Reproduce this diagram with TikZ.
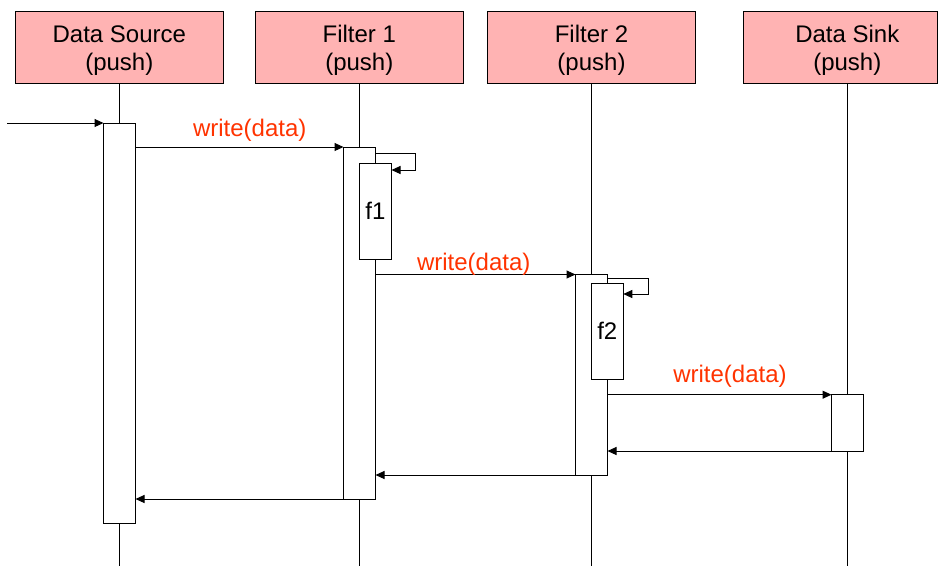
\documentclass[tikz,border=0pt]{standalone}
\usepackage{fontspec}
\setmainfont{Liberation Sans}
\usetikzlibrary{arrows.meta,calc}
\definecolor{hdr}{RGB}{255,179,179}
\definecolor{lblred}{RGB}{255,51,0}
\begin{document}
\begin{tikzpicture}[x=1pt,y=-1pt,line width=1pt,
  header/.style={draw, fill=hdr, minimum width=208pt, minimum height=72pt,
                 inner sep=0pt, outer sep=0pt},
  hdrtext/.style={align=center, inner sep=0pt, yshift=-3.5pt, font=\fontsize{24}{28}\selectfont},
  act/.style={draw, fill=white, minimum width=32pt, inner sep=0pt, outer sep=0pt, anchor=north,
              font=\fontsize{24}{28}\selectfont},
  msg/.style={-{Triangle[length=9pt,width=8pt]}},
  lbltext/.style={text=lblred, inner sep=0pt, font=\fontsize{24}{28}\selectfont}]
\useasboundingbox (0,0) rectangle (938,566);

% headers
\node[header, label={[hdrtext]center:Data Source\\(push)}] (ds) at (119.3,47) {};
\node[header, label={[hdrtext]center:Filter 1\\(push)}] (fa) at (359.3,47) {};
\node[header, label={[hdrtext]center:Filter 2\\(push)}] (fb) at (591.5,47) {};
\node[header, minimum width=194.5pt, label={[hdrtext, xshift=6.8pt]center:Data Sink\\(push)}] (sk) at (840.5,47) {};

% lifelines
\draw (ds.south) -- (ds.south |- 0,566);
\draw (fa.south) -- (fa.south |- 0,566);
\draw (fb.south) -- (fb.south |- 0,566);
\draw ([xshift=6.8pt]sk.south) -- ([xshift=6.8pt]sk.south |- 0,566);

% activations
\node[act, minimum height=400pt] (dsA) at (119.5,123) {};
\node[act, minimum height=352pt] (faA) at (359.5,147) {};
\node[act, minimum height=96pt]  (faN) at (375.5,163) {f1};
\node[act, minimum height=200.5pt] (fbA) at (591.5,274.5) {};
\node[act, minimum height=95.7pt] (fbN) at (607.3,283.3) {f2};
\node[act, minimum height=56.3pt] (skA) at (847.5,394.7) {};

% incoming call
\coordinate (in) at (7.3,123);
\draw[msg] (in) -- (dsA.north west);

% calls
\draw[msg] (dsA.east |- faA.north) -- (faA.north west);
\node[lbltext] (w1) at (249.7,130) {write(data)};

\draw[msg] ($(faA.north east)+(0,6.3)$) -- ++(40,0) -- ++(0,16.7) -- ($(faN.north east)+(0,7)$);

\draw[msg] (faA.east |- fbA.north) -- (fbA.north west);
\node[lbltext] (w2) at (473.7,264.5) {write(data)};

\draw[msg] ($(fbA.north east)+(0,3.8)$) -- ++(41,0) -- ++(0,15.7) -- ($(fbN.north east)+(0,10.7)$);

\draw[msg] (fbA.east |- skA.north) -- (skA.north west);
\node[lbltext] (w3) at (730,376) {write(data)};

% returns
\draw[msg] (skA.south west) -- (fbA.east |- skA.south);
\draw[msg] (fbA.south west) -- (faA.east |- fbA.south);
\draw[msg] (faA.south west) -- (dsA.east |- faA.south);
\end{tikzpicture}
\end{document}
